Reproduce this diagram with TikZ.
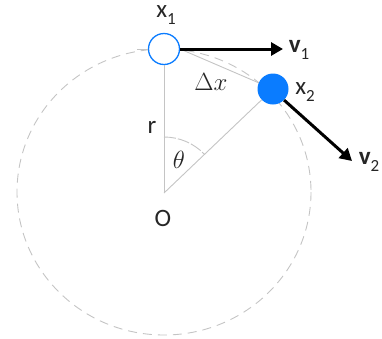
\documentclass[tikz,border=0pt]{standalone}
\usepackage{fontspec}
\setmainfont{Carlito}
\usetikzlibrary{arrows.meta}
\newcommand{\mysub}[1]{\raisebox{-0.25em}{\fontsize{17}{17}\selectfont #1}}
\definecolor{ballblue}{HTML}{0A7CFF}
\definecolor{thin}{HTML}{C4C4C4}
\definecolor{txt}{HTML}{262626}
\begin{document}
\begin{tikzpicture}[x=1pt,y=-1pt,
  lbl/.style={inner sep=0pt,text=txt,font=\fontsize{25}{29}\selectfont},
  mlbl/.style={inner sep=0pt,text=txt,font=\fontsize{23}{27}\selectfont},
  guide/.style={draw=thin,line width=0.9pt},
  vel/.style={draw=black,line width=3pt,-{Triangle[length=12pt,width=13pt]}},
  ball/.style={circle,minimum size=31pt,inner sep=0pt}]
\useasboundingbox (0,0) rectangle (382,338);
% orbit
\draw[draw=thin,line width=0.9pt,dash pattern=on 9pt off 6pt] (164,192) ellipse [x radius=147, y radius=143];
\coordinate (O) at (164,193);
\node[ball,draw=ballblue,fill=white,line width=1.3pt] (x1) at (164,49) {};
\node[ball,fill=ballblue] (x2) at (273,89) {};
\coordinate (lft) at (137,49);
\coordinate (v1e) at (283,49);
\coordinate (v2e) at (352,161);
% guide lines
\draw[guide] (lft) -- (x1.west);
\draw[guide] (O) -- (x1.south);
\draw[guide] (O) -- (x2);
\draw[guide] (x1.east) -- (x2);
% angle arc
\draw[draw=thin,line width=0.9pt,dash pattern=on 12pt off 2pt] (O) ++(0,-56) arc[start angle=-90,end angle=-44,radius=56];
% velocities
\draw[vel] (x1.east) -- (v1e);
\draw[vel] (x2.-45) -- (v2e);
% labels
\node[lbl] (lx1) at (166,15) {x\mysub{1}};
\node[lbl] (lv1) at (299,50) {\textbf{v}\mysub{1}};
\node[lbl] (lx2) at (305,92) {x\mysub{2}};
\node[lbl] (lv2) at (369,162) {\textbf{v}\mysub{2}};
\node[mlbl] (ldx) at (211,82) {$\Delta x$};
\node[lbl] (lr) at (152,127) {r};
\node[mlbl] (lth) at (179,160) {$\theta$};
\node[lbl] (lO) at (163,218) {O};
\end{tikzpicture}
\end{document}
